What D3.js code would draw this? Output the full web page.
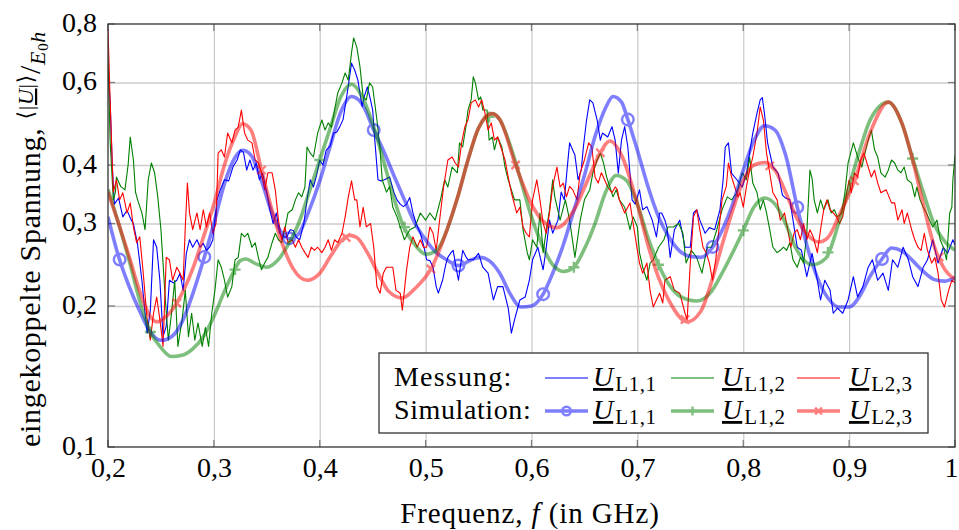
<!DOCTYPE html>
<html><head><meta charset="utf-8">
<script src="https://cdn.jsdelivr.net/npm/d3@7"></script>
<style>body{margin:0;background:#fff}svg{display:block}svg text{font-family:"Liberation Serif","DejaVu Serif","Noto Serif",serif !important;fill:#000}</style>
</head><body><svg id="c" width="959" height="530"></svg>
<script>
// ---------- data ----------
const xTicks = [0.2,0.3,0.4,0.5,0.6,0.7,0.8,0.9,1.0];
const yTicks = [0.1,0.2,0.3,0.4,0.6,0.8];
const seriesNames = ["L1,1","L1,2","L2,3"];
const rowLabels = ["Messung:","Simulation:"];

const measL11 = [[0.200,0.63],[0.202,0.55],[0.204,0.40],[0.206,0.33],[0.210,0.34],[0.214,0.31],[0.218,0.32],[0.222,0.305],[0.224,0.30],[0.228,0.27],[0.232,0.227],[0.235,0.193],[0.237,0.175],[0.240,0.196],[0.243,0.277],[0.246,0.267],[0.249,0.227],[0.252,0.172],[0.255,0.181],[0.258,0.227],[0.262,0.224],[0.265,0.227],[0.268,0.235],[0.271,0.216],[0.274,0.259],[0.277,0.277],[0.280,0.267],[0.284,0.277],[0.287,0.267],[0.290,0.272],[0.293,0.263],[0.296,0.267],[0.299,0.277],[0.303,0.337],[0.306,0.354],[0.310,0.372],[0.314,0.37],[0.318,0.396],[0.322,0.41],[0.325,0.431],[0.328,0.425],[0.331,0.39],[0.334,0.41],[0.337,0.39],[0.340,0.404],[0.343,0.372],[0.346,0.384],[0.350,0.35],[0.353,0.32],[0.356,0.30],[0.359,0.316],[0.362,0.286],[0.365,0.281],[0.369,0.281],[0.372,0.291],[0.375,0.29],[0.378,0.28],[0.381,0.277],[0.385,0.30],[0.388,0.337],[0.391,0.372],[0.394,0.359],[0.397,0.38],[0.400,0.41],[0.403,0.40],[0.406,0.43],[0.410,0.44],[0.413,0.468],[0.416,0.47],[0.419,0.483],[0.422,0.50],[0.426,0.57],[0.430,0.66],[0.433,0.638],[0.436,0.607],[0.440,0.533],[0.442,0.56],[0.445,0.587],[0.448,0.55],[0.450,0.524],[0.452,0.452],[0.455,0.372],[0.458,0.37],[0.461,0.372],[0.466,0.377],[0.470,0.35],[0.473,0.337],[0.476,0.33],[0.479,0.326],[0.482,0.33],[0.485,0.341],[0.488,0.316],[0.491,0.30],[0.495,0.286],[0.498,0.27],[0.501,0.251],[0.504,0.25],[0.507,0.242],[0.510,0.22],[0.512,0.213],[0.516,0.227],[0.519,0.245],[0.521,0.254],[0.524,0.26],[0.526,0.263],[0.529,0.24],[0.531,0.227],[0.535,0.263],[0.538,0.255],[0.540,0.251],[0.545,0.251],[0.550,0.259],[0.554,0.242],[0.559,0.235],[0.564,0.206],[0.568,0.22],[0.573,0.22],[0.578,0.198],[0.581,0.175],[0.584,0.187],[0.589,0.206],[0.594,0.209],[0.598,0.227],[0.601,0.251],[0.606,0.267],[0.611,0.239],[0.614,0.267],[0.617,0.305],[0.620,0.286],[0.625,0.305],[0.628,0.35],[0.631,0.337],[0.634,0.40],[0.636,0.446],[0.639,0.43],[0.641,0.42],[0.644,0.372],[0.647,0.39],[0.649,0.437],[0.652,0.499],[0.655,0.551],[0.658,0.543],[0.662,0.499],[0.665,0.452],[0.667,0.468],[0.672,0.459],[0.676,0.483],[0.679,0.452],[0.682,0.384],[0.685,0.452],[0.688,0.483],[0.691,0.437],[0.695,0.337],[0.698,0.33],[0.702,0.354],[0.705,0.321],[0.709,0.326],[0.714,0.305],[0.718,0.281],[0.721,0.316],[0.723,0.316],[0.726,0.305],[0.728,0.294],[0.731,0.254],[0.735,0.291],[0.740,0.305],[0.745,0.267],[0.750,0.267],[0.753,0.316],[0.756,0.321],[0.759,0.305],[0.764,0.286],[0.768,0.294],[0.773,0.291],[0.778,0.321],[0.781,0.372],[0.783,0.437],[0.786,0.446],[0.789,0.384],[0.794,0.372],[0.799,0.359],[0.803,0.384],[0.806,0.425],[0.809,0.468],[0.813,0.516],[0.816,0.551],[0.818,0.557],[0.820,0.516],[0.823,0.446],[0.828,0.396],[0.833,0.384],[0.837,0.345],[0.840,0.34],[0.844,0.337],[0.847,0.305],[0.851,0.267],[0.855,0.263],[0.860,0.231],[0.865,0.259],[0.870,0.227],[0.873,0.206],[0.877,0.227],[0.882,0.216],[0.885,0.193],[0.889,0.198],[0.894,0.193],[0.899,0.206],[0.904,0.231],[0.908,0.209],[0.913,0.22],[0.918,0.242],[0.922,0.251],[0.927,0.227],[0.932,0.235],[0.937,0.216],[0.941,0.251],[0.946,0.242],[0.951,0.267],[0.956,0.251],[0.960,0.231],[0.965,0.22],[0.970,0.242],[0.974,0.251],[0.979,0.277],[0.984,0.247],[0.989,0.267],[0.993,0.259],[0.998,0.277],[1.000,0.27]];

const measL12 = [[0.200,0.70],[0.202,0.45],[0.204,0.372],[0.205,0.337],[0.207,0.35],[0.208,0.377],[0.212,0.36],[0.216,0.354],[0.219,0.40],[0.221,0.459],[0.224,0.41],[0.226,0.35],[0.228,0.337],[0.232,0.316],[0.235,0.291],[0.238,0.372],[0.241,0.404],[0.244,0.385],[0.247,0.342],[0.250,0.291],[0.254,0.209],[0.257,0.169],[0.260,0.193],[0.263,0.227],[0.266,0.164],[0.270,0.187],[0.273,0.216],[0.276,0.172],[0.279,0.193],[0.282,0.169],[0.285,0.184],[0.289,0.164],[0.292,0.18],[0.295,0.164],[0.298,0.193],[0.301,0.216],[0.304,0.251],[0.307,0.242],[0.310,0.227],[0.313,0.209],[0.317,0.22],[0.320,0.251],[0.323,0.254],[0.326,0.286],[0.329,0.281],[0.332,0.286],[0.336,0.267],[0.339,0.273],[0.342,0.254],[0.345,0.239],[0.348,0.247],[0.351,0.254],[0.355,0.273],[0.358,0.286],[0.361,0.277],[0.364,0.273],[0.367,0.291],[0.370,0.316],[0.374,0.321],[0.377,0.337],[0.380,0.349],[0.383,0.342],[0.386,0.359],[0.388,0.437],[0.391,0.424],[0.394,0.416],[0.398,0.468],[0.402,0.499],[0.405,0.475],[0.408,0.492],[0.411,0.482],[0.414,0.524],[0.417,0.570],[0.421,0.599],[0.424,0.629],[0.427,0.607],[0.430,0.694],[0.432,0.747],[0.435,0.714],[0.438,0.648],[0.441,0.559],[0.444,0.551],[0.447,0.599],[0.450,0.587],[0.454,0.499],[0.457,0.431],[0.459,0.372],[0.463,0.35],[0.466,0.36],[0.469,0.325],[0.473,0.31],[0.476,0.295],[0.480,0.277],[0.485,0.291],[0.490,0.295],[0.495,0.316],[0.500,0.305],[0.504,0.316],[0.509,0.305],[0.514,0.337],[0.518,0.372],[0.521,0.359],[0.525,0.396],[0.530,0.385],[0.532,0.446],[0.535,0.437],[0.538,0.482],[0.540,0.524],[0.543,0.551],[0.545,0.617],[0.547,0.599],[0.550,0.551],[0.552,0.559],[0.554,0.524],[0.558,0.524],[0.560,0.452],[0.563,0.459],[0.565,0.431],[0.568,0.459],[0.572,0.437],[0.575,0.396],[0.578,0.372],[0.581,0.354],[0.584,0.337],[0.589,0.337],[0.592,0.291],[0.596,0.26],[0.598,0.251],[0.601,0.277],[0.605,0.267],[0.608,0.316],[0.611,0.26],[0.614,0.291],[0.617,0.321],[0.620,0.372],[0.622,0.342],[0.627,0.305],[0.632,0.337],[0.636,0.305],[0.641,0.254],[0.646,0.305],[0.650,0.337],[0.655,0.354],[0.658,0.385],[0.662,0.41],[0.665,0.424],[0.668,0.404],[0.671,0.377],[0.674,0.359],[0.677,0.342],[0.680,0.354],[0.683,0.337],[0.688,0.325],[0.693,0.291],[0.696,0.31],[0.700,0.295],[0.702,0.26],[0.705,0.242],[0.709,0.227],[0.712,0.247],[0.715,0.251],[0.720,0.267],[0.725,0.277],[0.729,0.295],[0.734,0.295],[0.739,0.30],[0.743,0.286],[0.746,0.247],[0.751,0.263],[0.756,0.254],[0.761,0.235],[0.766,0.267],[0.770,0.267],[0.775,0.291],[0.780,0.321],[0.785,0.342],[0.789,0.337],[0.794,0.349],[0.799,0.385],[0.803,0.372],[0.806,0.416],[0.809,0.366],[0.813,0.349],[0.816,0.321],[0.819,0.337],[0.822,0.316],[0.825,0.291],[0.828,0.267],[0.832,0.26],[0.835,0.263],[0.838,0.267],[0.841,0.263],[0.844,0.273],[0.847,0.251],[0.851,0.242],[0.854,0.254],[0.857,0.247],[0.860,0.286],[0.863,0.39],[0.865,0.375],[0.867,0.337],[0.870,0.316],[0.873,0.337],[0.876,0.321],[0.880,0.337],[0.883,0.316],[0.886,0.321],[0.889,0.31],[0.893,0.316],[0.896,0.349],[0.899,0.404],[0.904,0.446],[0.906,0.431],[0.909,0.41],[0.912,0.396],[0.915,0.424],[0.918,0.452],[0.921,0.475],[0.924,0.431],[0.927,0.416],[0.930,0.385],[0.934,0.377],[0.937,0.39],[0.940,0.41],[0.943,0.404],[0.946,0.39],[0.949,0.385],[0.952,0.396],[0.955,0.372],[0.959,0.366],[0.962,0.342],[0.964,0.359],[0.967,0.337],[0.970,0.325],[0.973,0.316],[0.976,0.305],[0.979,0.295],[0.983,0.305],[0.986,0.277],[0.989,0.267],[0.992,0.251],[0.995,0.316],[0.997,0.325],[0.998,0.372],[1.000,0.42]];

const measL23 = [[0.200,0.78],[0.202,0.55],[0.205,0.35],[0.208,0.372],[0.211,0.337],[0.214,0.349],[0.218,0.316],[0.221,0.332],[0.224,0.295],[0.227,0.273],[0.230,0.281],[0.233,0.239],[0.237,0.187],[0.240,0.169],[0.243,0.193],[0.246,0.209],[0.249,0.187],[0.252,0.164],[0.255,0.254],[0.258,0.251],[0.261,0.227],[0.265,0.242],[0.268,0.235],[0.271,0.227],[0.273,0.295],[0.275,0.366],[0.277,0.316],[0.280,0.291],[0.284,0.316],[0.287,0.291],[0.290,0.321],[0.293,0.295],[0.296,0.316],[0.299,0.286],[0.302,0.30],[0.304,0.424],[0.307,0.431],[0.310,0.416],[0.313,0.468],[0.317,0.446],[0.320,0.475],[0.323,0.482],[0.326,0.524],[0.329,0.468],[0.332,0.452],[0.336,0.446],[0.339,0.41],[0.342,0.404],[0.345,0.385],[0.348,0.354],[0.351,0.385],[0.355,0.385],[0.358,0.354],[0.361,0.305],[0.364,0.277],[0.367,0.295],[0.370,0.273],[0.374,0.277],[0.377,0.267],[0.380,0.277],[0.383,0.267],[0.386,0.26],[0.389,0.254],[0.392,0.267],[0.395,0.263],[0.398,0.267],[0.402,0.26],[0.405,0.267],[0.408,0.277],[0.411,0.263],[0.414,0.277],[0.417,0.273],[0.421,0.286],[0.424,0.31],[0.427,0.342],[0.430,0.37],[0.433,0.337],[0.435,0.337],[0.438,0.295],[0.441,0.325],[0.444,0.295],[0.448,0.30],[0.451,0.267],[0.454,0.22],[0.457,0.213],[0.460,0.235],[0.463,0.242],[0.466,0.242],[0.469,0.242],[0.472,0.216],[0.476,0.213],[0.478,0.196],[0.482,0.239],[0.485,0.267],[0.488,0.281],[0.492,0.267],[0.495,0.277],[0.498,0.267],[0.501,0.267],[0.504,0.295],[0.507,0.286],[0.510,0.263],[0.514,0.316],[0.517,0.359],[0.521,0.41],[0.525,0.416],[0.528,0.404],[0.531,0.396],[0.534,0.446],[0.537,0.482],[0.540,0.499],[0.543,0.543],[0.547,0.551],[0.550,0.532],[0.553,0.551],[0.556,0.517],[0.559,0.475],[0.562,0.492],[0.565,0.452],[0.568,0.459],[0.571,0.437],[0.575,0.41],[0.578,0.377],[0.581,0.349],[0.586,0.316],[0.589,0.325],[0.592,0.295],[0.595,0.286],[0.598,0.281],[0.601,0.337],[0.605,0.372],[0.608,0.337],[0.611,0.30],[0.614,0.286],[0.617,0.316],[0.620,0.36],[0.624,0.396],[0.627,0.359],[0.630,0.366],[0.633,0.342],[0.636,0.36],[0.639,0.354],[0.643,0.337],[0.646,0.385],[0.650,0.41],[0.654,0.446],[0.657,0.437],[0.660,0.377],[0.663,0.366],[0.666,0.385],[0.669,0.372],[0.672,0.359],[0.676,0.349],[0.679,0.359],[0.681,0.355],[0.683,0.337],[0.688,0.316],[0.693,0.332],[0.696,0.30],[0.700,0.263],[0.702,0.247],[0.705,0.235],[0.709,0.247],[0.712,0.216],[0.715,0.199],[0.718,0.206],[0.721,0.213],[0.724,0.203],[0.726,0.227],[0.731,0.231],[0.735,0.216],[0.740,0.213],[0.745,0.193],[0.747,0.187],[0.750,0.247],[0.753,0.31],[0.756,0.321],[0.759,0.291],[0.762,0.267],[0.765,0.26],[0.768,0.247],[0.771,0.227],[0.774,0.251],[0.777,0.291],[0.780,0.337],[0.784,0.36],[0.786,0.404],[0.789,0.377],[0.792,0.359],[0.795,0.342],[0.797,0.349],[0.800,0.325],[0.803,0.359],[0.806,0.39],[0.809,0.416],[0.813,0.468],[0.816,0.532],[0.819,0.499],[0.822,0.424],[0.825,0.385],[0.828,0.349],[0.832,0.337],[0.835,0.305],[0.839,0.316],[0.842,0.291],[0.845,0.267],[0.848,0.286],[0.851,0.291],[0.854,0.277],[0.857,0.30],[0.860,0.277],[0.863,0.291],[0.866,0.281],[0.870,0.26],[0.873,0.291],[0.876,0.321],[0.879,0.337],[0.882,0.321],[0.885,0.316],[0.888,0.31],[0.891,0.30],[0.894,0.31],[0.897,0.342],[0.900,0.372],[0.902,0.349],[0.905,0.385],[0.908,0.377],[0.911,0.41],[0.914,0.424],[0.918,0.396],[0.921,0.377],[0.924,0.39],[0.927,0.366],[0.930,0.349],[0.935,0.354],[0.940,0.332],[0.943,0.332],[0.946,0.305],[0.950,0.321],[0.952,0.30],[0.955,0.316],[0.959,0.291],[0.962,0.277],[0.965,0.267],[0.968,0.263],[0.971,0.286],[0.974,0.263],[0.978,0.247],[0.981,0.254],[0.984,0.235],[0.987,0.206],[0.990,0.199],[0.994,0.216],[0.997,0.227],[1.000,0.224]];

const simL11 = [[0.20,0.31],[0.21,0.255],[0.22,0.22],[0.23,0.195],[0.24,0.176],[0.25,0.169],[0.26,0.172],[0.27,0.185],[0.28,0.212],[0.29,0.25],[0.30,0.30],[0.31,0.365],[0.32,0.415],[0.327,0.43],[0.335,0.42],[0.345,0.37],[0.355,0.315],[0.365,0.285],[0.372,0.278],[0.38,0.285],[0.39,0.32],[0.40,0.37],[0.41,0.44],[0.42,0.52],[0.43,0.56],[0.44,0.54],[0.451,0.475],[0.46,0.43],[0.47,0.38],[0.48,0.337],[0.49,0.30],[0.50,0.277],[0.51,0.26],[0.52,0.251],[0.531,0.244],[0.545,0.252],[0.552,0.254],[0.56,0.25],[0.57,0.235],[0.58,0.212],[0.59,0.199],[0.60,0.200],[0.611,0.212],[0.62,0.235],[0.63,0.27],[0.64,0.32],[0.65,0.38],[0.66,0.46],[0.67,0.53],[0.677,0.56],[0.685,0.545],[0.691,0.50],[0.70,0.43],[0.71,0.36],[0.72,0.31],[0.73,0.28],[0.74,0.262],[0.75,0.255],[0.76,0.254],[0.77,0.265],[0.78,0.29],[0.79,0.33],[0.80,0.39],[0.81,0.45],[0.82,0.485],[0.83,0.475],[0.84,0.42],[0.851,0.325],[0.86,0.27],[0.87,0.23],[0.88,0.208],[0.89,0.199],[0.90,0.199],[0.91,0.21],[0.92,0.232],[0.931,0.252],[0.94,0.266],[0.95,0.262],[0.96,0.25],[0.97,0.237],[0.98,0.228],[0.99,0.226],[1.00,0.23]];

const simL12 = [[0.20,0.355],[0.21,0.30],[0.22,0.25],[0.23,0.205],[0.24,0.176],[0.25,0.163],[0.26,0.156],[0.27,0.157],[0.28,0.162],[0.29,0.172],[0.30,0.19],[0.31,0.215],[0.318,0.235],[0.325,0.25],[0.33,0.252],[0.34,0.246],[0.35,0.242],[0.36,0.25],[0.37,0.27],[0.38,0.30],[0.39,0.35],[0.40,0.41],[0.41,0.48],[0.42,0.56],[0.43,0.595],[0.44,0.56],[0.45,0.49],[0.46,0.41],[0.47,0.34],[0.478,0.30],[0.49,0.27],[0.50,0.258],[0.51,0.262],[0.52,0.29],[0.53,0.34],[0.54,0.41],[0.55,0.48],[0.563,0.515],[0.57,0.50],[0.58,0.44],[0.59,0.37],[0.60,0.31],[0.61,0.27],[0.62,0.245],[0.63,0.237],[0.64,0.242],[0.65,0.265],[0.66,0.30],[0.67,0.35],[0.68,0.38],[0.69,0.37],[0.70,0.33],[0.71,0.28],[0.72,0.245],[0.73,0.222],[0.74,0.21],[0.756,0.205],[0.77,0.215],[0.78,0.235],[0.79,0.26],[0.80,0.29],[0.81,0.325],[0.82,0.34],[0.83,0.33],[0.84,0.30],[0.85,0.265],[0.865,0.245],[0.878,0.253],[0.89,0.30],[0.90,0.36],[0.91,0.43],[0.92,0.50],[0.937,0.545],[0.95,0.49],[0.959,0.42],[0.97,0.35],[0.98,0.30],[0.99,0.275],[1.00,0.263]];

const simL23 = [[0.20,0.35],[0.21,0.30],[0.22,0.255],[0.23,0.215],[0.24,0.19],[0.246,0.185],[0.255,0.19],[0.265,0.203],[0.28,0.24],[0.29,0.28],[0.30,0.33],[0.31,0.40],[0.32,0.46],[0.327,0.49],[0.335,0.475],[0.345,0.39],[0.355,0.32],[0.365,0.27],[0.375,0.24],[0.388,0.227],[0.40,0.235],[0.41,0.255],[0.42,0.275],[0.428,0.283],[0.435,0.28],[0.445,0.26],[0.455,0.235],[0.465,0.215],[0.478,0.208],[0.49,0.218],[0.505,0.24],[0.52,0.29],[0.53,0.34],[0.54,0.41],[0.55,0.48],[0.563,0.515],[0.57,0.50],[0.585,0.40],[0.60,0.33],[0.61,0.305],[0.624,0.294],[0.64,0.32],[0.655,0.38],[0.665,0.425],[0.674,0.45],[0.685,0.42],[0.70,0.33],[0.71,0.27],[0.72,0.23],[0.73,0.205],[0.747,0.185],[0.76,0.195],[0.77,0.225],[0.78,0.27],[0.79,0.32],[0.80,0.37],[0.81,0.40],[0.821,0.405],[0.83,0.39],[0.84,0.35],[0.85,0.31],[0.86,0.285],[0.871,0.274],[0.88,0.28],[0.89,0.31],[0.905,0.37],[0.92,0.47],[0.937,0.545],[0.95,0.49],[0.96,0.41],[0.97,0.33],[0.98,0.27],[0.99,0.24],[1.00,0.228]];

const markL11 = [0.211,0.291,0.371,0.451,0.531,0.611,0.691,0.771,0.851,0.931];
const markL12 = [0.24,0.32,0.40,0.48,0.56,0.64,0.72,0.80,0.88,0.96];
const markL23 = [0.265,0.345,0.425,0.505,0.585,0.665,0.745,0.825,0.905,0.985];

// ---------- styles ----------
const colors = ["#0000ff","#008000","#ff0000"];
const markerTypes = ["circle","plus","cross"];
const FONT = "'Liberation Serif','DejaVu Serif','Noto Serif',serif";

// ---------- chart ----------
const svg = d3.select("#c");
const L=108,R=955,T=24,B=447;
const x = d3.scaleLinear().domain([0.2,1]).range([L,R]);
const y = d3.scaleLog().domain([0.1,0.8]).range([B,T]);
const fmt = d => d===1 ? "1" : d3.format(".1f")(d).replace(".",",");

svg.append("defs").append("clipPath").attr("id","clip")
  .append("rect").attr("x",L).attr("y",T).attr("width",R-L).attr("height",B-T);

// grid
const grid = svg.append("g");
grid.append("g").attr("transform",`translate(0,${B})`)
  .call(d3.axisBottom(x).tickValues(xTicks.slice(1,-1)).tickSize(-(B-T)).tickFormat(""))
  .call(g=>{g.select(".domain").remove();g.selectAll("line").attr("stroke","#cccccc").attr("stroke-width",1.3);});
grid.append("g").attr("transform",`translate(${L},0)`)
  .call(d3.axisLeft(y).tickValues(yTicks.slice(1,-1)).tickSize(-(R-L)).tickFormat(""))
  .call(g=>{g.select(".domain").remove();g.selectAll("line").attr("stroke","#cccccc").attr("stroke-width",1.3);});

// tick marks (inside, all sides)
const tk = svg.append("g").attr("stroke","#808080").attr("stroke-width",1.3);
xTicks.forEach(v=>{tk.append("line").attr("x1",x(v)).attr("x2",x(v)).attr("y1",B).attr("y2",B-7);
                   tk.append("line").attr("x1",x(v)).attr("x2",x(v)).attr("y1",T).attr("y2",T+7);});
yTicks.forEach(v=>{tk.append("line").attr("x1",L).attr("x2",L+7).attr("y1",y(v)).attr("y2",y(v));
                   tk.append("line").attr("x1",R).attr("x2",R-7).attr("y1",y(v)).attr("y2",y(v));});

// tick labels via axes
svg.append("g").attr("transform",`translate(0,${B})`)
  .call(d3.axisBottom(x).tickValues(xTicks).tickSize(0).tickPadding(10).tickFormat(fmt))
  .call(g=>{g.attr("font-family",FONT);g.select(".domain").remove();
    g.selectAll("text").attr("font-size",28).attr("dy","0.71em").attr("fill","#000")
     .attr("dx",d=>d===1?-4:0);});
svg.append("g").attr("transform",`translate(${L},0)`)
  .call(d3.axisLeft(y).tickValues(yTicks).tickSize(0).tickPadding(11).tickFormat(fmt))
  .call(g=>{g.attr("font-family",FONT);g.select(".domain").remove();g.selectAll("text").attr("font-size",28).attr("dy","0.26em").attr("fill","#000");});

// lines
const plot = svg.append("g").attr("clip-path","url(#clip)");
const line = d3.line().x(d=>x(d[0])).y(d=>y(d[1]));
const sline = d3.line().x(d=>x(d[0])).y(d=>y(d[1])).curve(d3.curveMonotoneX);
const meas=[measL11,measL12,measL23], sims=[simL11,simL12,simL23], marks=[markL11,markL12,markL23];

meas.forEach((m,i)=>plot.append("path").datum(m).attr("d",line).attr("fill","none")
  .attr("stroke",colors[i]).attr("stroke-width",1.1).attr("stroke-linejoin","round"));

function interp(arr,xv){
  const i = d3.bisector(d=>d[0]).left(arr,xv);
  if(i<=0) return arr[0][1]; if(i>=arr.length) return arr[arr.length-1][1];
  const a=arr[i-1],b=arr[i],t=(xv-a[0])/(b[0]-a[0]);
  return Math.exp(Math.log(a[1])*(1-t)+Math.log(b[1])*t);
}
function drawMarker(g,type,cx,cy,color,s){
  if(type==="circle") g.append("circle").attr("cx",cx).attr("cy",cy).attr("r",s).attr("fill","none").attr("stroke",color).attr("stroke-width",2.4);
  else if(type==="plus") g.append("path").attr("d",`M${cx-s},${cy}H${cx+s}M${cx},${cy-s}V${cy+s}`).attr("stroke",color).attr("stroke-width",2.4);
  else { const k=s*0.75; g.append("path").attr("d",`M${cx-k},${cy-k}L${cx+k},${cy+k}M${cx-k},${cy+k}L${cx+k},${cy-k}`).attr("stroke",color).attr("stroke-width",2.4);}
}
sims.forEach((s,i)=>{
  const g = plot.append("g").attr("opacity",0.5);
  g.append("path").datum(s).attr("d",sline).attr("fill","none").attr("stroke",colors[i]).attr("stroke-width",3.6);
  marks[i].forEach(mx=>drawMarker(g,markerTypes[i],x(mx),y(interp(s,mx)),colors[i],i===0?5.8:5.5));
});

// frame
svg.append("rect").attr("x",L).attr("y",T).attr("width",R-L).attr("height",B-T)
  .attr("fill","none").attr("stroke","#333").attr("stroke-width",1.3);

// legend
const lg = svg.append("g").attr("font-family",FONT);
lg.append("rect").attr("x",379).attr("y",353).attr("width",549).attr("height",80)
  .attr("fill","#fff").attr("stroke","#333").attr("stroke-width",1.3);
const rowY=[386,419], colLine=[545,671,797], colText=[593,722,849];
rowLabels.forEach((r,ri)=>{
  lg.append("text").attr("x",394).attr("y",rowY[ri]).attr("font-size",28).attr("letter-spacing",ri===0?1.2:0.6).text(r);
  seriesNames.forEach((n,ci)=>{
    const ly=rowY[ri]-8;
    if(ri===0){
      lg.append("line").attr("x1",colLine[ci]).attr("x2",colLine[ci]+43).attr("y1",ly).attr("y2",ly).attr("stroke",colors[ci]).attr("stroke-width",1.1);
    } else {
      const g=lg.append("g").attr("opacity",0.5);
      g.append("line").attr("x1",colLine[ci]).attr("x2",colLine[ci]+43).attr("y1",ly).attr("y2",ly).attr("stroke",colors[ci]).attr("stroke-width",3.6);
      drawMarker(g,markerTypes[ci],colLine[ci]+21.5,ly,colors[ci],ci===0?4.3:4.5);
    }
    const t=lg.append("text").attr("x",colText[ci]).attr("y",rowY[ri]).attr("font-size",28);
    t.append("tspan").attr("font-style","italic").attr("text-decoration","underline").text("U");
    t.append("tspan").attr("font-size",21).attr("dy",5).attr("dx",2).attr("letter-spacing",0.6).text(n);
  });
});

// axis titles
const xt = svg.append("text").attr("x",530).attr("y",523).attr("text-anchor","middle").attr("font-size",29).attr("letter-spacing",0.9).attr("font-family",FONT);
xt.append("tspan").text("Frequenz, ");
xt.append("tspan").attr("font-style","italic").text("f");
xt.append("tspan").text(" (in GHz)");

const yt = svg.append("text").attr("transform","translate(40,447) rotate(-90)").attr("text-anchor","start").attr("font-size",30).attr("letter-spacing",0.7).attr("font-family",FONT);
yt.append("tspan").text("eingekoppelte Spannung, ");
yt.append("tspan").attr("font-size",22).attr("dy",-7).text("⟨|");
yt.append("tspan").attr("font-size",22).attr("font-style","italic").attr("text-decoration","underline").text("U");
yt.append("tspan").attr("font-size",22).text("|⟩");
yt.append("tspan").attr("dy",7).text("/");
yt.append("tspan").attr("font-size",22).attr("dy",5).attr("font-style","italic").text("E");
yt.append("tspan").attr("font-size",15).attr("dy",3).text("0");
yt.append("tspan").attr("font-size",22).attr("dy",-3).attr("font-style","italic").text("h");
</script></body></html>
